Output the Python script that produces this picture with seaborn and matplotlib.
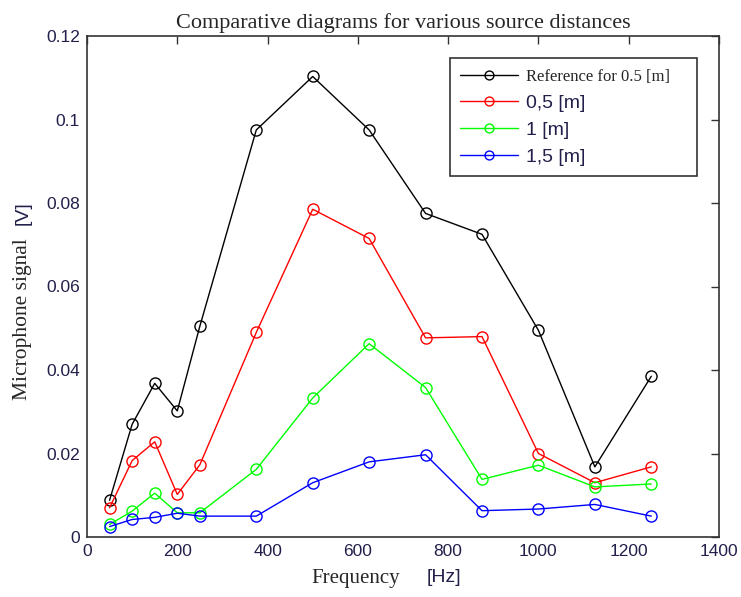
import pandas as pd
import matplotlib.pyplot as plt
import seaborn as sns

# Frequencies (Hz) and microphone signal (V) per source distance
freq = [50, 100, 150, 200, 250, 375, 500, 625, 750, 875, 1000, 1125, 1250]
ref_05 = [0.0088, 0.0270, 0.0368, 0.0302, 0.0505, 0.0975, 0.1103, 0.0975,
          0.0775, 0.0725, 0.0495, 0.0168, 0.0385]
d_05 = [0.0070, 0.0183, 0.0228, 0.0102, 0.0173, 0.0490, 0.0785, 0.0715,
        0.0477, 0.0480, 0.0200, 0.0130, 0.0168]
d_10 = [0.0030, 0.0062, 0.0105, 0.0058, 0.0058, 0.0162, 0.0333, 0.0463,
        0.0358, 0.0138, 0.0172, 0.0120, 0.0127]
d_15 = [0.0025, 0.0042, 0.0047, 0.0057, 0.0050, 0.0050, 0.0130, 0.0180,
        0.0197, 0.0063, 0.0067, 0.0078, 0.0050]

labels = ["Reference for 0.5 [m]", "0,5 [m]", "1 [m]", "1,5 [m]"]
colors = ["#000000", "#ff0000", "#00ff00", "#0000ff"]
xticks = [0, 200, 400, 600, 800, 1000, 1200, 1400]
yticks = [0, 0.02, 0.04, 0.06, 0.08, 0.1, 0.12]
ytick_labels = ["0", "0.02", "0.04", "0.06", "0.08", "0.1", "0.12"]

frames = []
for lab, vals in zip(labels, [ref_05, d_05, d_10, d_15]):
    frames.append(pd.DataFrame({"freq": freq, "signal": vals, "series": lab}))
df = pd.concat(frames, ignore_index=True)

sns.set_style("white")
plt.rcParams["font.family"] = ["Liberation Sans", "DejaVu Sans"]

TXT = "#22204a"
SERIF = "Liberation Serif"

fig = plt.figure(figsize=(7.41, 5.97), dpi=100)
# axes box: x 87..719 px, y 36..537 px
ax = fig.add_axes([87 / 741, 60 / 597, 632 / 741, 501 / 597])

sns.lineplot(data=df, x="freq", y="signal", hue="series", hue_order=labels,
             palette=colors, marker="o", markersize=8, markerfacecolor="none",
             markeredgewidth=1.0, linewidth=1.0, legend=False, ax=ax)

for line, c in zip(ax.get_lines(), colors):
    line.set_markeredgecolor(c)

ax.set_xlim(0, 1400)
ax.set_ylim(0, 0.12)
ax.set_xticks(xticks)
ax.set_yticks(yticks)
ax.set_yticklabels(ytick_labels)
ax.tick_params(direction="in", length=6, width=1, top=True, right=True,
               labelsize=12.5, labelcolor=TXT, color="#333333", pad=5)
for sp in ax.spines.values():
    sp.set_color("#333333")
    sp.set_linewidth(1.2)

ax.set_xlabel("")
ax.set_ylabel("")
ax.set_title("Comparative diagrams for various source distances",
             fontfamily=SERIF, fontsize=16, pad=6)

# axis labels: serif word + sans unit, as in the original figure
fig.text(400 / 741, 1 - 578 / 597, "Frequency", fontfamily=SERIF, fontsize=15,
         ha="right", va="center")
fig.text(427 / 741, 1 - 578 / 597, "[Hz]", fontsize=14, color=TXT,
         ha="left", va="center")
fig.text(23 / 741, 1 - 400 / 597, "Microphone signal", fontfamily=SERIF,
         fontsize=15.5, rotation=90, ha="center", va="bottom")
fig.text(23 / 741, 1 - 213 / 597, "[V]", fontsize=14, color=TXT, rotation=90,
         ha="center", va="center")

# legend box: x 450..697 px, top at 58 px
leg = ax.legend(ax.get_lines(), labels, loc="upper left",
                bbox_to_anchor=((450 - 87) / 632, 0.5, 247 / 632,
                                1 - 22 / 501 - 0.5),
                mode="expand", borderaxespad=0, fancybox=False,
                framealpha=1, edgecolor="#333333", fontsize=14,
                handlelength=3.0, handletextpad=0.4, labelspacing=0.48,
                borderpad=0.5, markerscale=0.8)
leg.get_frame().set_linewidth(1.2)
texts = leg.get_texts()
texts[0].set_fontfamily(SERIF)
texts[0].set_fontsize(12)
for t in texts[1:]:
    t.set_color(TXT)

fig.savefig("out.png", dpi=100)
